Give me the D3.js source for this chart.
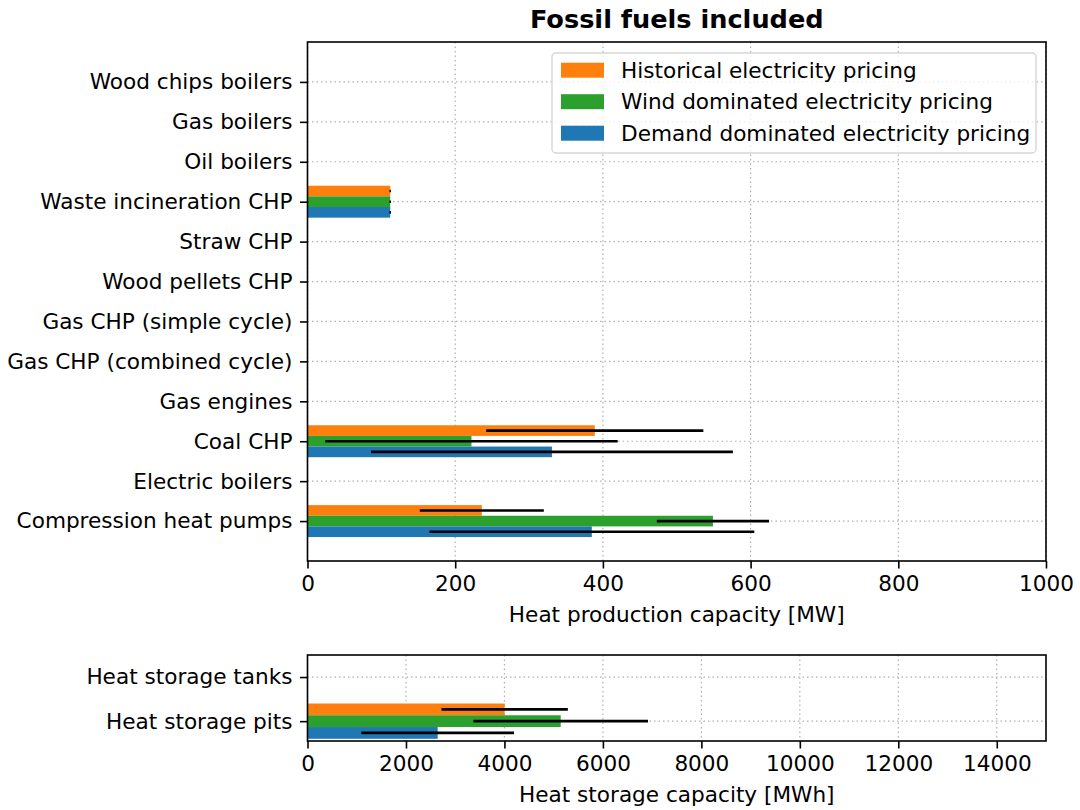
<!DOCTYPE html>
<html>
<head>
<meta charset="utf-8">
<script src="https://cdn.jsdelivr.net/npm/d3@7"></script>
<style>
  body { margin: 0; background: #fff; }
  text { font-family: "DejaVu Sans", sans-serif; fill: #000; }
  .grid line { stroke: #b0b0b0; stroke-width: 1.2; stroke-dasharray: 1.5,3; }
  .axis path, .axis line { stroke: #000; stroke-width: 1.6; }
</style>
</head>
<body>
<div id="main"></div>
<script>
// categories, bottom-up as in the plot
var productionUnits = ["Compression heat pumps", "Electric boilers", "Coal CHP", "Gas engines",
  "Gas CHP (combined cycle)", "Gas CHP (simple cycle)", "Wood pellets CHP", "Straw CHP",
  "Waste incineration CHP", "Oil boilers", "Gas boilers", "Wood chips boilers"];
var storageUnits = ["Heat storage pits", "Heat storage tanks"];

var scenarios = ["Historical electricity pricing", "Wind dominated electricity pricing", "Demand dominated electricity pricing"];
var scenarioColors = ["#ff7f0e", "#2ca02c", "#1f77b4"];

// capacities [MW], per scenario, same order as productionUnits
var histCap   = [236, 0, 389, 0, 0, 0, 0, 0, 112, 0, 0, 0];
var windCap   = [549, 0, 222, 0, 0, 0, 0, 0, 112, 0, 0, 0];
var demandCap = [385, 0, 331, 0, 0, 0, 0, 0, 112, 0, 0, 0];
// standard deviations [MW]
var histErr   = [84, 0, 147, 0, 0, 0, 0, 0, 1, 0, 0, 0];
var windErr   = [76, 0, 198, 0, 0, 0, 0, 0, 1, 0, 0, 0];
var demandErr = [220, 0, 245, 0, 0, 0, 0, 0, 1, 0, 0, 0];

// storage [MWh]
var histStore   = [4005, 0];
var windStore   = [5143, 0];
var demandStore = [2644, 0];
var histStoreErr   = [1283, 0];
var windStoreErr   = [1773, 0];
var demandStoreErr = [1551, 0];

var prodTicks = [0, 200, 400, 600, 800, 1000];
var storeTicks = [0, 2000, 4000, 6000, 8000, 10000, 12000, 14000];

var ctx = { w: 1080, h: 810, left: 307.5, right: 1046, barH: 0.8 / 3, fs: "21.6px" };

var svg = d3.select("#main").append("svg").attr("width", ctx.w).attr("height", ctx.h);

var drawPanel = function(cfg){
  var g = svg.append("g");
  var x = d3.scaleLinear().domain(cfg.xDomain).range([ctx.left, ctx.right]);
  var y = d3.scaleLinear().domain(cfg.yDomain).range([cfg.bottom, cfg.top]);

  // grid
  var grid = g.append("g").attr("class", "grid");
  grid.selectAll("line.v").data(cfg.xTicks).enter().append("line")
      .attr("x1", d => x(d)).attr("x2", d => x(d))
      .attr("y1", cfg.top).attr("y2", cfg.bottom);
  grid.selectAll("line.h").data(cfg.cats).enter().append("line")
      .attr("x1", ctx.left).attr("x2", ctx.right)
      .attr("y1", (d, i) => y(i)).attr("y2", (d, i) => y(i));

  // bars: orange on top, green middle, blue bottom
  cfg.series.forEach(function(s, k){
    var off = (1 - k) * ctx.barH;
    var rows = s.vals.map((v, i) => ({v: v, e: s.err[i], i: i}));
    g.append("g").selectAll("rect").data(rows).enter().append("rect")
      .attr("x", x(0))
      .attr("y", d => y(d.i + off + ctx.barH / 2))
      .attr("width", d => x(d.v) - x(0))
      .attr("height", y(0) - y(ctx.barH))
      .attr("fill", scenarioColors[k]);
  });
  cfg.series.forEach(function(s, k){
    var off = (1 - k) * ctx.barH;
    var rows = s.vals.map((v, i) => ({v: v, e: s.err[i], i: i})).filter(d => d.v > 0);
    g.append("g").selectAll("line").data(rows).enter().append("line")
      .attr("x1", d => x(d.v - d.e))
      .attr("x2", d => x(d.v + d.e))
      .attr("y1", d => y(d.i + off)).attr("y2", d => y(d.i + off))
      .attr("stroke", "#000").attr("stroke-width", 2.6);
  });

  // axes
  g.append("g").attr("class", "axis")
    .attr("transform", `translate(0,${cfg.bottom})`)
    .call(d3.axisBottom(x).tickValues(cfg.xTicks).tickFormat(d3.format("d")).tickSize(7.5).tickPadding(7.5))
    .call(a => a.select(".domain").remove())
    .selectAll("text").style("font-size", ctx.fs).attr("dy", "0.71em");
  g.append("g").attr("class", "axis")
    .attr("transform", `translate(${ctx.left},0)`)
    .call(d3.axisLeft(y).tickValues(d3.range(cfg.cats.length)).tickFormat(i => cfg.cats[i]).tickSize(7.5).tickPadding(7.5))
    .call(a => a.select(".domain").remove())
    .selectAll("text").style("font-size", ctx.fs);

  // frame
  g.append("rect").attr("x", ctx.left).attr("y", cfg.top)
    .attr("width", ctx.right - ctx.left).attr("height", cfg.bottom - cfg.top)
    .attr("fill", "none").attr("stroke", "#000").attr("stroke-width", 1.6);

  g.append("text").attr("x", (ctx.left + ctx.right) / 2).attr("y", cfg.bottom + 61)
    .attr("text-anchor", "middle").style("font-size", ctx.fs).text(cfg.xLabel);
  return {x: x, y: y};
};

drawPanel({
  top: 42, bottom: 561, xDomain: [0, 1000], yDomain: [-1, 12], xTicks: prodTicks,
  cats: productionUnits, xLabel: "Heat production capacity [MW]",
  series: [{vals: histCap, err: histErr}, {vals: windCap, err: windErr}, {vals: demandCap, err: demandErr}]
});
drawPanel({
  top: 655, bottom: 741, xDomain: [0, 15000], yDomain: [-0.45, 1.5], xTicks: storeTicks,
  cats: storageUnits, xLabel: "Heat storage capacity [MWh]",
  series: [{vals: histStore, err: histStoreErr}, {vals: windStore, err: windStoreErr}, {vals: demandStore, err: demandStoreErr}]
});

// title
svg.append("text").attr("x", (ctx.left + ctx.right) / 2).attr("y", 28)
  .attr("text-anchor", "middle").style("font-size", "25.6px").style("font-weight", "bold")
  .text("Fossil fuels included");

// legend
var leg = svg.append("g").attr("transform", "translate(552,53)");
leg.append("rect").attr("width", 484).attr("height", 100).attr("rx", 4)
  .attr("fill", "#fff").attr("fill-opacity", 0.8).attr("stroke", "#d6d6d6").attr("stroke-width", 1.4);
scenarios.forEach(function(name, k){
  var row = leg.append("g").attr("transform", `translate(0,${17.2 + k * 31.5})`);
  row.append("rect").attr("x", 9).attr("y", -7.5).attr("width", 43).attr("height", 15).attr("fill", scenarioColors[k]);
  row.append("text").attr("x", 69).attr("y", 0).attr("dy", "0.35em").style("font-size", ctx.fs).text(name);
});
</script>
</body>
</html>
